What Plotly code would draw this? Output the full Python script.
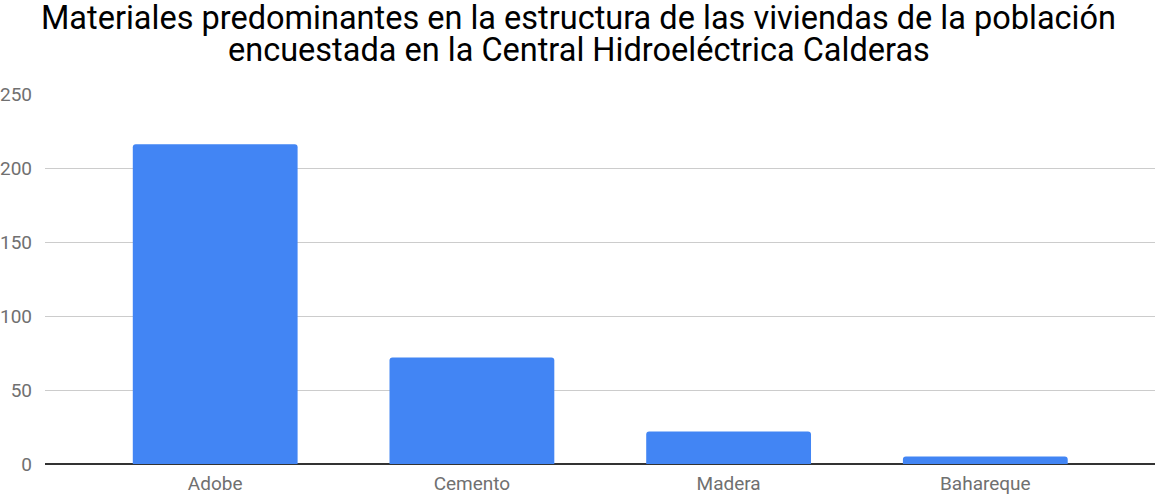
import plotly.graph_objects as go

# datos
materiales = ["Adobe", "Cemento", "Madera", "Bahareque"]
viviendas = [216, 72, 22, 5]
y_ticks = [0, 50, 100, 150, 200, 250]

titulo_1 = "Materiales predominantes en la estructura de las viviendas de la población"
titulo_2 = "encuestada en la Central Hidroeléctrica Calderas"

fig = go.Figure()
fig.add_trace(go.Bar(x=materiales, y=viviendas, marker_color="#4285f4",
                     marker_line_width=0, width=0.642))

# titulo en dos anotaciones para un interlineado mas compacto
for txt, yy in [(titulo_1, 1.205), (titulo_2, 1.118)]:
    fig.add_annotation(text=txt, xref="paper", yref="paper", x=0.481, y=yy,
                       xanchor="center", yanchor="middle", showarrow=False,
                       font=dict(family="Roboto", size=32.5, color="#000000"))

fig.update_layout(
    width=1158, height=495,
    font=dict(family="Roboto", size=19, color="#707070"),
    plot_bgcolor="white", paper_bgcolor="white",
    margin=dict(l=45, r=3, t=94, b=31),
    barcornerradius=3,
    showlegend=False,
)
fig.update_xaxes(range=[-0.663, 3.661], showgrid=False, ticks="", showline=False,
                 ticklabelstandoff=6, automargin=False)
fig.update_yaxes(range=[0, 250], tickvals=y_ticks, gridcolor="#cccccc", gridwidth=1,
                 zeroline=True, zerolinecolor="#333333", zerolinewidth=1.5,
                 ticks="", ticklabelstandoff=12, automargin=False)

# sin el margen de 8px del body y sin barra de herramientas
fig.write_html("out.html", config={"displayModeBar": False},
               post_script="document.body.style.margin='0';")
